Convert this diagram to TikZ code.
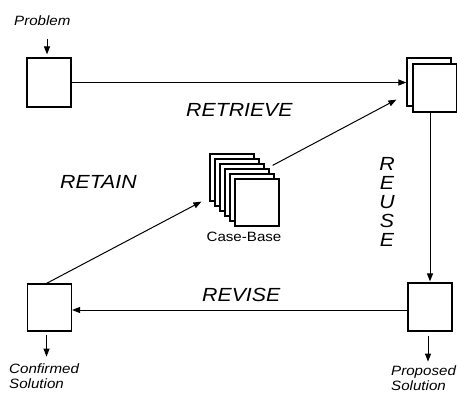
\documentclass[tikz,border=0pt]{standalone}
\usepackage{fontspec}
\setmainfont{Liberation Sans}
\newfontfamily\lblfont[FakeStretch=1.12]{Liberation Sans}
\usetikzlibrary{arrows.meta, positioning, calc}

\begin{document}
\begin{tikzpicture}[
  x=1pt, y=-1pt,
  card/.style={draw, line width=1.2pt, fill=white, minimum width=44pt, minimum height=48pt, inner sep=0pt},
  flow/.style={-{Triangle[length=8pt,width=6pt]}, line width=1pt},
  stepname/.style={font=\lblfont\itshape\fontsize{19}{19}\selectfont, inner sep=0pt},
  iolabel/.style={font=\lblfont\itshape\fontsize{13.5}{15}\selectfont, align=left, inner sep=0pt}
]
  \useasboundingbox (0,0) rectangle (457,392);

  % cases
  \node[card, minimum height=49pt] (prob) at (49,82.5) {};
  \node[card] (rtback)  at (429,82) {};
  \node[card] (rtfront) at (435,88) {};
  \foreach \i in {0,...,5}
    \node[card, minimum height=47pt] (cb\i) at (232+5*\i,177.5+5*\i) {};
  \node[card, minimum height=47pt] (conf) at (49.5,307.5) {};
  \node[card] (prop) at (430,307) {};

  % texts
  \node[iolabel, anchor=base west] (probtxt) at (14,25) {Problem};
  \node[iolabel, anchor=north west] (conftxt) at (9,363.5) {Confirmed\\Solution};
  \node[iolabel, anchor=north west] (proptxt) at (391,365.5) {Proposed\\Solution};
  \node[font=\lblfont\fontsize{13.5}{15}\selectfont, inner sep=0pt, anchor=base] (cbtxt) at (244,241) {Case-Base};

  \node[stepname, anchor=base west] (retrieve) at (186,116) {RETRIEVE};
  \node[stepname, anchor=base west] (retain)   at (60,188)  {RETAIN};
  \node[stepname, anchor=base west] (revise)   at (202,301) {REVISE};
  \node[stepname, align=center, anchor=north] (reuse) at (387,157) {R\\E\\U\\S\\E};

  % cycle
  \draw[flow] (prob.east) -- (prob.east -| rtback.west);
  \draw[flow] ([shift={(3pt,3pt)}]cb3.north east) -- ([shift={(-10pt,7pt)}]rtback.south west);
  \draw[flow] (prop.north |- rtfront.south) -- ([yshift=1pt]prop.north);
  \draw[flow] ([yshift=-3pt]prop.west) -- ([yshift=-3pt]prop.west -| conf.east);
  \draw[flow] ([xshift=-3pt]conf.north) -- ([xshift=-8pt]cb0.south west);

  % in and out
  \draw[flow] ($(prob.north)+(-2,-18)$) -- ($(prob.north)+(-2,-3)$);
  \draw[flow] ([shift={(-3pt,-3pt)}]conf.south) -- ++(0,22);
  \draw[flow] ([shift={(-2pt,-4pt)}]prop.south) -- ++(0,26);
\end{tikzpicture}
\end{document}
